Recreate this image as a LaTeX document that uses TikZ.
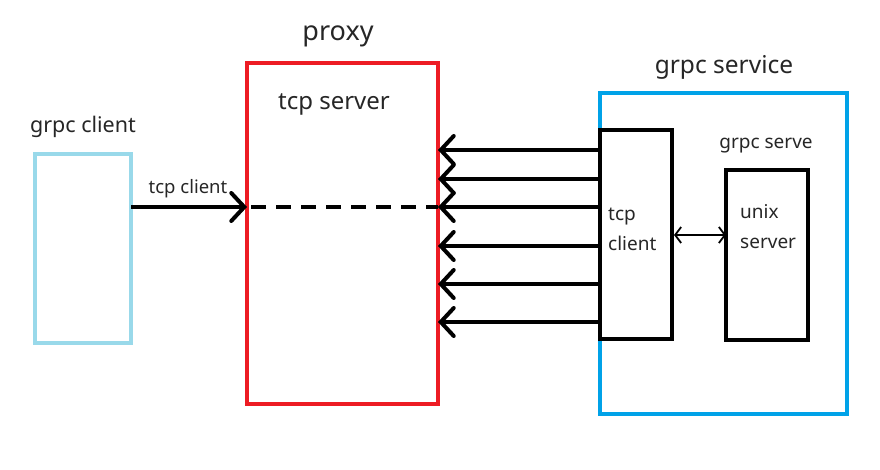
\documentclass[tikz,border=0pt]{standalone}
\usepackage{fontspec}
\setmainfont{Noto Sans}
\usetikzlibrary{arrows.meta}
\definecolor{pred}{HTML}{ED1C24}
\definecolor{plblue}{HTML}{99D9EA}
\definecolor{pblue}{HTML}{00A2E8}
\begin{document}
\begin{tikzpicture}[x=1pt,y=-1pt,
  box/.style={draw,line width=4pt,inner sep=0pt,outer sep=0pt},
  lbl/.style={inner sep=0pt,anchor=center,text=black!85},
  bigarrow/.style={line width=4pt,-{Straight Barb[length=13pt,width=28pt,line cap=round]}},
  dbl/.style={line width=1.8pt,{Straight Barb[length=6pt,width=16pt]}-{Straight Barb[length=6pt,width=16pt]}}]
\useasboundingbox (0,0) rectangle (880,470);
% boxes
\node[box,draw=plblue,line width=3.5pt,minimum width=96pt,minimum height=189pt] (gc) at (83,248.5) {};
\node[box,draw=pred,minimum width=191pt,minimum height=341pt] (proxy) at (342.5,233.5) {};
\node[box,draw=pblue,minimum width=247pt,minimum height=321pt] (svc) at (723.5,253.5) {};
\node[box,fill=white,minimum width=72pt,minimum height=209pt] (tcpc) at (636,234.5) {};
\node[box,minimum width=82pt,minimum height=170pt] (unix) at (767,255) {};
% labels
\node[lbl,font=\fontsize{21.5}{24}\selectfont] (lgc) at (83,127) {grpc client};
\node[lbl,font=\fontsize{27}{30}\selectfont] (lproxy) at (338,36) {proxy};
\node[lbl,font=\fontsize{24}{27}\selectfont] (ltcps) at (334,104) {tcp server};
\node[lbl,font=\fontsize{24.5}{27}\selectfont] (lsvc) at (724,67) {grpc service};
\node[lbl,font=\fontsize{18.5}{20}\selectfont] (ltcpc) at (188,189) {tcp client};
\node[lbl,font=\fontsize{19}{21}\selectfont] (lgs) at (766,146) {grpc serve};
\node[lbl,font=\fontsize{19}{30}\selectfont,align=left,anchor=west] (lcl) at (608,229) {tcp\\client};
\node[lbl,font=\fontsize{19}{30}\selectfont,align=left,anchor=west] (lux) at (740,227) {unix\\server};
% rows
\coordinate (r1) at (0,150);
\coordinate (r2) at (0,179);
\coordinate (r3) at (0,207);
\coordinate (r4) at (0,246);
\coordinate (r5) at (0,284);
\coordinate (r6) at (0,322);
\coordinate (rd) at (0,235);
% connectors
\draw[bigarrow] (gc.east |- r3) -- (proxy.west |- r3);
\draw[line width=4pt,dash pattern=on 15pt off 10pt] ([xshift=4pt]proxy.west |- r3) -- (proxy.east |- r3);
\foreach \r in {r1,r2,r3,r4,r5,r6}
  \draw[bigarrow] (tcpc.west |- \r) -- (proxy.east |- \r);
\draw[dbl] ([xshift=2pt]tcpc.east |- rd) -- (unix.west |- rd);
\end{tikzpicture}
\end{document}
